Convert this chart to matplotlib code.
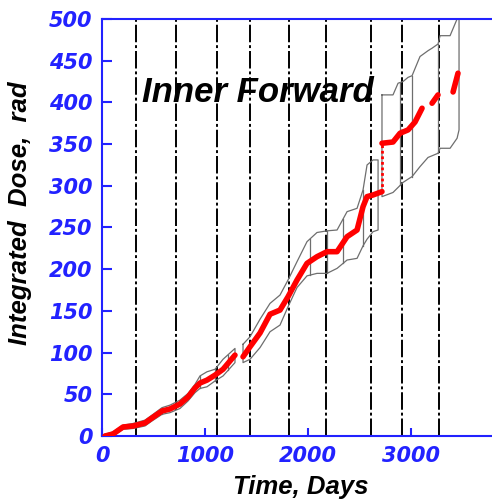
import numpy as np
import matplotlib.pyplot as plt

nan = np.nan

# measured dose (red), NaN = no data
red_day = [29, 107, 204, 301, 417, 485, 583, 660, 757, 835, 903, 951, 1019, 1097, 1175, 1291, nan,
           1369, 1437, 1534, 1631, 1728, 1806, 1893, 1990, 2087, 2184, 2282, 2379, 2476, 2534, 2573,
           2631, 2718, nan, 2718, 2825, 2893, 2971, 3039, 3107, nan, 3204, 3262, nan, 3408, 3456]
red_dose = [0, 2.4, 10.8, 12, 15.6, 21.6, 30, 32.4, 38.4, 46.8, 57.6, 63.5, 67, 73, 80, 97, nan,
            95, 107, 123.5, 146, 151, 167, 187, 207, 215, 221, 221, 239, 247, 275, 287,
            289, 293, nan, 351, 352.5, 363, 367, 376.5, 393, nan, 399, 409, nan, 412.5, 435]
# the jump at ~2718 days
jump_day = [2718, 2718]
jump_dose = [293, 351]

# uncertainty envelopes (gray), one per data block
env1_day = [29, 107, 204, 301, 417, 485, 583, 660, 757, 835, 903, 951, 1019, 1097, 1175, 1291]
env1_up = [2, 5, 13, 15, 19, 25, 34, 37, 43, 51, 62, 72, 77, 80, 92, 105]
env1_lo = [0, 0, 8, 9, 12, 18, 26, 28, 33, 42, 52, 57, 59, 66, 72, 88]
env1_cut = [583, 951, 1097, 1223]

env2_day = [1369, 1437, 1534, 1631, 1728, 1806, 1893, 1990, 2087, 2184, 2282, 2379, 2476, 2534, 2573, 2631, 2680]
env2_up = [110, 119, 140, 159, 169, 187, 209, 233, 244, 246, 247, 269, 273, 295, 325, 331, 331]
env2_lo = [88, 92, 106, 125, 133, 155, 178, 192, 195, 195, 201, 211, 213, 228, 236, 245, 247]
env2_cut = [2019, 2184, 2340, 2534]

env3_day = [2718, 2825, 2874, 2922, 2971, 3010, 3087, 3165, 3204, 3262, 3282, 3379, 3447, 3466]
env3_up = [409, 409, 423, 425, 430, 432, 455, 462, 465, 470, 480, 480, 500, 540]
env3_lo = [287, 292, 298, 304, 308, 311, 323, 334, 336, 339, 345, 345, 357, 367]
env3_cut = [2893, 3010, 3262]

# dash-dot markers on the time axis
event_days = [327, 718, 1117, 1437, 1816, 2175, 2612, 2913, 3272]

blue = '#2222ff'
font = 'Liberation Sans'

fig = plt.figure(figsize=(4.92, 5.03), dpi=100)
ax = fig.add_axes([102/492, 67/503, 390/492, 417/503])

for d in event_days:
    ax.axvline(d, color='black', lw=1.4, dashes=(9, 1.5, 1.5, 1.5), zorder=1)

for dd, uu, ll, cuts in [(env1_day, env1_up, env1_lo, env1_cut),
                         (env2_day, env2_up, env2_lo, env2_cut),
                         (env3_day, env3_up, env3_lo, env3_cut)]:
    xs = list(dd) + list(dd[::-1]) + [dd[0]]
    ys = list(uu) + list(ll[::-1]) + [uu[0]]
    ax.plot(xs, ys, color='#6e6e6e', lw=0.9, zorder=2)
    for c in cuts:
        ax.plot([c, c], [np.interp(c, dd, ll), np.interp(c, dd, uu)], color='#6e6e6e', lw=0.9, zorder=2)

ax.plot(red_day, red_dose, color='red', lw=4, solid_capstyle='round', zorder=3)
ax.plot(jump_day, jump_dose, color='red', lw=2, ls=(0, (1, 1)), zorder=3)

ax.set_xlim(0, 3786)
ax.set_ylim(0, 500)
ax.set_xticks([0, 1000, 2000, 3000])
ax.set_yticks(np.arange(0, 501, 50))

for s in ['left', 'bottom', 'top']:
    ax.spines[s].set_color(blue)
    ax.spines[s].set_linewidth(1.5)
ax.spines['right'].set_visible(False)

ax.tick_params(axis='y', direction='in', length=7.2, width=1.5, color=blue, pad=7)
ax.tick_params(axis='x', direction='in', length=5.8, width=1.5, color=blue, pad=7)
for lab in ax.get_xticklabels() + ax.get_yticklabels():
    lab.set_family('DejaVu Sans')
    lab.set_fontsize(15)
    lab.set_fontweight('bold')
    lab.set_fontstyle('italic')
    lab.set_color(blue)

ax.set_xlabel('Time, Days', family=font, fontsize=18.5, fontweight='bold', style='italic', va='center')
ax.xaxis.set_label_coords(0.51, -0.122)
ax.set_ylabel('Integrated  Dose,  rad', family=font, fontsize=18.5, fontweight='bold', style='italic', va='center')
ax.yaxis.set_label_coords(-0.21, 0.535)

ax.text(1515, 412, 'Inner Forward', family=font, fontsize=25, fontweight='bold', style='italic',
        ha='center', va='center', zorder=4)

fig.savefig('out.png', dpi=100)
